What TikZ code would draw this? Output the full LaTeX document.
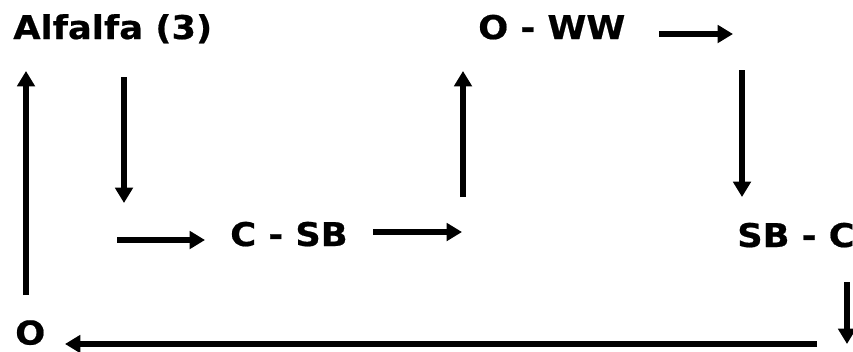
\documentclass[tikz,border=0pt]{standalone}
\usepackage{fontspec}
\setmainfont[FakeStretch=1.08,BoldFeatures={FakeBold=0.6}]{DejaVu Sans}
\usetikzlibrary{arrows.meta}
\begin{document}
\begin{tikzpicture}[x=0.75pt,y=-0.75pt,
  lbl/.style={anchor=base west,inner sep=0pt,font=\bfseries\fontsize{24.5}{28}\selectfont},
  arr/.style={line width=3.9pt,-{Triangle[length=11.5pt,width=13pt]}}]
\useasboundingbox[fill=white] (0,0) rectangle (853,351);
\node[lbl] (alf) at (13,39) {Alfalfa (3)};
\node[lbl] (oww) at (478,39) {O - WW};
\node[lbl] (csb) at (230,246) {C - SB};
\node[lbl] (sbc) at (737,247) {SB - C};
\node[lbl] (o) at (15,344.5) {O};
% arrow end points
\coordinate (a1s) at (26,295); \coordinate (a1e) at (26,71);
\coordinate (a2s) at (124,77); \coordinate (a2e) at (124,203);
\coordinate (a3s) at (117,240); \coordinate (a3e) at (205,240);
\coordinate (a4s) at (373,232); \coordinate (a4e) at (462,232);
\coordinate (a5s) at (463,197); \coordinate (a5e) at (463,71);
\coordinate (a6s) at (659,34); \coordinate (a6e) at (733,34);
\coordinate (a7s) at (742,70); \coordinate (a7e) at (742,197);
\coordinate (a8s) at (847,282); \coordinate (a8e) at (847,344);
\coordinate (a9s) at (817,344); \coordinate (a9e) at (65,344);
\foreach \i in {1,...,9} \draw[arr] (a\i s) -- (a\i e);
\end{tikzpicture}
\end{document}
